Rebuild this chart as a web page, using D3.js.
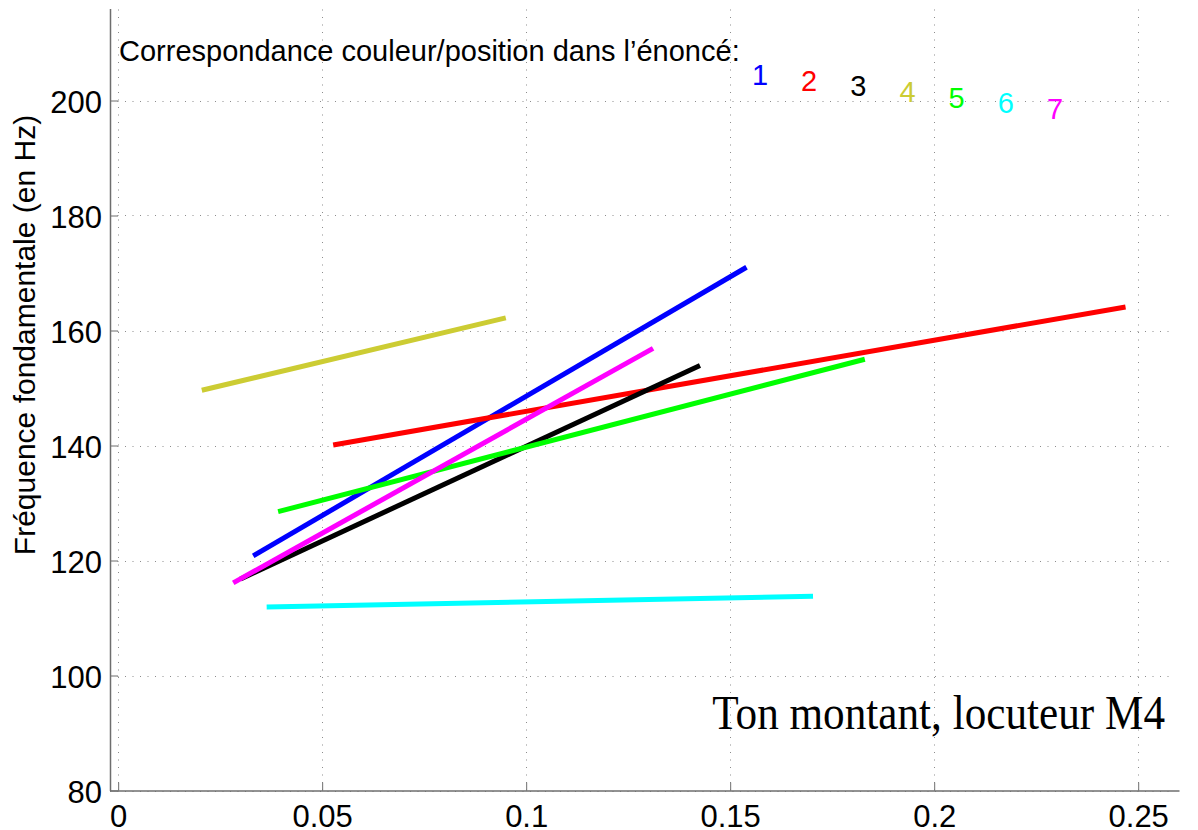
<!DOCTYPE html>
<html>
<head>
<meta charset="utf-8">
<script src="https://cdn.jsdelivr.net/npm/d3@7"></script>
<style>
  html, body { margin: 0; padding: 0; background: #fff; }
  svg { display: block; }
  text { font-family: "Liberation Sans", Arial, Helvetica, sans-serif; }
</style>
</head>
<body>
<svg id="chart" width="1198" height="830"></svg>
<script>
// Regression lines of F0 against time, one per position in the sentence (1..7)
const positions = ["1", "2", "3", "4", "5", "6", "7"];
const colors = ["#0000ff", "#ff0000", "#000000", "#cccc33", "#00ff00", "#00ffff", "#ff00ff"];
const startTime = [0.0331, 0.0527, 0.0300, 0.0205, 0.0392, 0.0364, 0.0282];
const endTime   = [0.1540, 0.2469, 0.1426, 0.0950, 0.1830, 0.1703, 0.1311];
const startF0   = [120.8, 140.1, 116.8, 149.6, 128.5, 111.9, 116.1];
const endF0     = [171.0, 164.1, 153.9, 162.2, 155.0, 113.8, 156.9];

const xTicks = [0, 0.05, 0.1, 0.15, 0.2, 0.25];
const xTickLabels = ["0", "0.05", "0.1", "0.15", "0.2", "0.25"];
const yTicks = [80, 100, 120, 140, 160, 180, 200];

const legendText = "Correspondance couleur/position dans l\u2019énoncé:";
const titleText = "Ton montant, locuteur M4";
const yLabel = "Fréquence fondamentale (en Hz)";

const svg = d3.select("#chart");

const x = d3.scaleLinear().domain([-0.002, 0.26]).range([110, 1179]);
const y = d3.scaleLinear().domain([80, 216]).range([790.5, 8.5]);

const [x0, x1] = x.range();
const [yb, yt] = y.range();

// dotted grid
const grid = svg.append("g").attr("stroke", "#8c8c8c").attr("stroke-width", 1)
  .attr("stroke-dasharray", "1,6.5").attr("fill", "none");
grid.selectAll("line.v").data(xTicks).join("line")
  .attr("x1", d => Math.round(x(d)) + 0.5).attr("x2", d => Math.round(x(d)) + 0.5)
  .attr("y1", yb).attr("y2", yt);
grid.selectAll("line.h").data(yTicks).join("line")
  .attr("y1", d => Math.round(y(d)) + 0.5).attr("y2", d => Math.round(y(d)) + 0.5)
  .attr("x1", x0).attr("x2", 1175);

// axes with inward ticks
const xAxis = d3.axisBottom(x).tickValues(xTicks).tickFormat((d, i) => xTickLabels[i])
  .tickSizeInner(-8).tickSizeOuter(0).tickPadding(14);
const yAxis = d3.axisLeft(y).tickValues(yTicks).tickFormat(d3.format("d"))
  .tickSizeInner(-8).tickSizeOuter(0).tickPadding(8);

const gx = svg.append("g").attr("transform", `translate(0,${yb})`).call(xAxis);
const gy = svg.append("g").attr("transform", `translate(${x0},0)`).call(yAxis);
[gx, gy].forEach(g => {
  g.select(".domain").attr("stroke", "#6e6e6e").attr("stroke-width", 1.5);
  g.selectAll(".tick line").attr("stroke", "#6e6e6e").attr("stroke-width", 1);
  g.selectAll(".tick text").attr("fill", "#000").style("font-size", "31px")
    .style("font-family", "'Liberation Sans', Arial, sans-serif");
});
gx.selectAll(".tick text").attr("dy", "0.71em");
gy.selectAll(".tick text").attr("dy", "0.38em");

// fitted lines, drawn in position order
const lineGen = d3.line().x(d => x(d[0])).y(d => y(d[1]));
svg.append("g").selectAll("path").data(positions).join("path")
  .attr("d", (p, i) => lineGen([[startTime[i], startF0[i]], [endTime[i], endF0[i]]]))
  .attr("fill", "none")
  .attr("stroke", (p, i) => colors[i])
  .attr("stroke-width", 5);

// colour key
svg.append("text").attr("x", 119).attr("y", 61)
  .style("font-size", "29px").attr("fill", "#000").text(legendText);
svg.append("g").selectAll("text").data(positions).join("text")
  .attr("x", (p, i) => x(0.1573 + 0.01205 * i))
  .attr("y", (p, i) => y(202.7 - 0.99 * i))
  .attr("text-anchor", "middle")
  .style("font-size", "29px")
  .attr("fill", (p, i) => colors[i])
  .text(p => p);

// annotation, slightly condensed serif
svg.append("text")
  .attr("transform", "translate(1165,729) scale(0.9,1)")
  .attr("text-anchor", "end")
  .style("font-family", "'Liberation Serif', 'Times New Roman', serif")
  .style("font-size", "48px").attr("fill", "#000").text(titleText);

// y axis title
svg.append("text")
  .attr("transform", `translate(35,335) rotate(-90)`)
  .attr("text-anchor", "middle")
  .style("font-size", "30px").attr("fill", "#000").text(yLabel);
</script>
</body>
</html>
